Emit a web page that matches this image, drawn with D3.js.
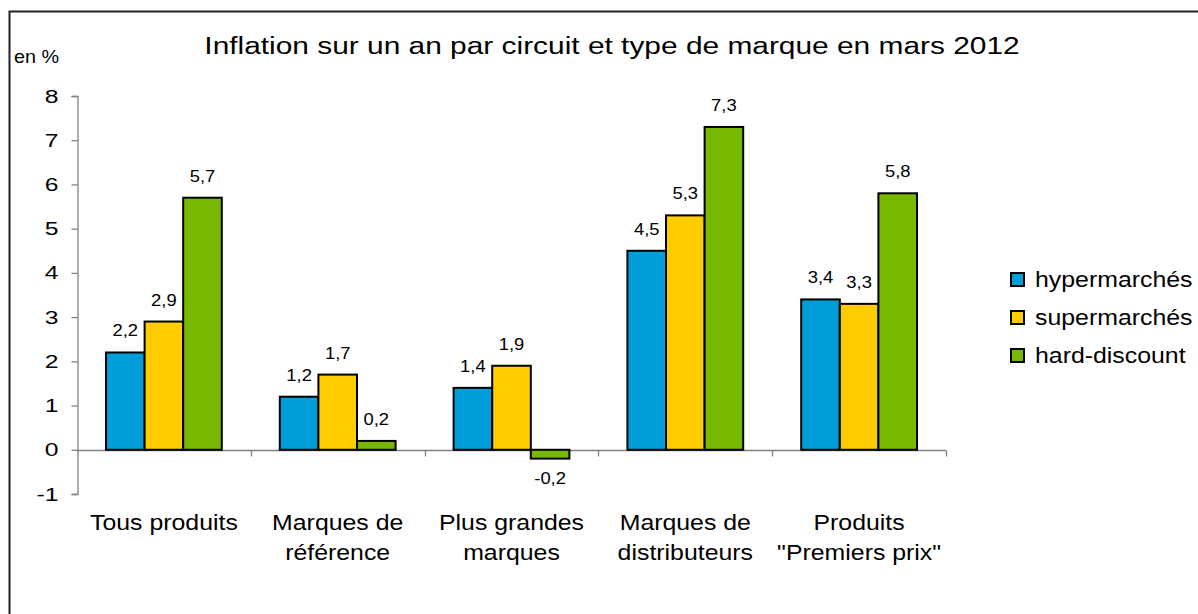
<!DOCTYPE html>
<html>
<head>
<meta charset="utf-8">
<script src="https://cdn.jsdelivr.net/npm/d3@7"></script>
<style>
  body { margin: 0; background: #fff; }
  text { font-family: "Liberation Sans", Arial, sans-serif; fill: #000; }
</style>
</head>
<body>
<svg id="svg" width="1198" height="614"></svg>
<script>
"use strict";

// data
const categories = [
	["Tous produits"],
	["Marques de", "référence"],
	["Plus grandes", "marques"],
	["Marques de", "distributeurs"],
	["Produits", "\"Premiers prix\""],
];
const series = ["hypermarchés", "supermarchés", "hard-discount"];
const hyper = [2.2, 1.2, 1.4, 4.5, 3.4];
const superm = [2.9, 1.7, 1.9, 5.3, 3.3];
const hard = [5.7, 0.2, -0.2, 7.3, 5.8];
const yTicks = [-1, 0, 1, 2, 3, 4, 5, 6, 7, 8];
const colors = ["#009ed9", "#ffcc00", "#76b900"];

const values = [hyper, superm, hard];
const svg = d3.select("#svg");

// the original text looks stretched sideways, so draw text with a scaleX
function place(sel, x, y, sx) {
	return sel.attr("x", 0).attr("y", 0)
		.attr("transform", `translate(${x},${y}) scale(${sx},1)`);
}

// outer frame
svg.append("rect")
	.attr("x", 9.5)
	.attr("y", 11.5)
	.attr("width", 1200)
	.attr("height", 620)
	.attr("fill", "none")
	.attr("stroke", "#222")
	.attr("stroke-width", 2);

// title
place(svg.append("text"), 612, 54, 1.22)
	.attr("text-anchor", "middle")
	.attr("font-size", "24.5px")
	.text("Inflation sur un an par circuit et type de marque en mars 2012");

place(svg.append("text"), 14, 63, 1.1)
	.attr("font-size", "18px")
	.text("en %");

// scales
const y = d3.scaleLinear().domain([-1, 8]).range([494, 96]);
const x0 = d3
	.scaleBand()
	.domain(d3.range(categories.length))
	.range([77, 946]);
const x1 = d3
	.scaleBand()
	.domain(d3.range(series.length))
	.range([29, x0.bandwidth() - 29]);

// y axis
const yAxis = svg
	.append("g")
	.attr("transform", "translate(77.5,0)")
	.call(d3.axisLeft(y).tickValues(yTicks).tickSize(6).tickFormat((d) => String(d)));
yAxis.select(".domain").attr("stroke", "#808080").attr("stroke-width", 1.3);
yAxis.selectAll(".tick line").attr("stroke", "#808080").attr("stroke-width", 1.3);
yAxis.selectAll(".tick text")
	.attr("font-size", "19px")
	.attr("font-family", "Liberation Sans, Arial, sans-serif")
	.attr("fill", "#000")
	.attr("x", 0)
	.attr("transform", "translate(-19,0) scale(1.3,1)");

// zero line with category ticks
const y0 = Math.round(y(0)) + 0.5;
svg.append("line")
	.attr("x1", 77)
	.attr("x2", 946)
	.attr("y1", y0)
	.attr("y2", y0)
	.attr("stroke", "#808080")
	.attr("stroke-width", 1.3);
svg.append("g")
	.selectAll("line")
	.data(d3.range(1, categories.length + 1))
	.enter()
	.append("line")
	.attr("x1", (d) => Math.round(x0.range()[0] + d * x0.bandwidth()) + 0.5)
	.attr("x2", (d) => Math.round(x0.range()[0] + d * x0.bandwidth()) + 0.5)
	.attr("y1", y0)
	.attr("y2", y0 + 6)
	.attr("stroke", "#808080")
	.attr("stroke-width", 1.3);

// bars
const groups = svg
	.append("g")
	.selectAll("g")
	.data(categories)
	.enter()
	.append("g")
	.attr("transform", (d, i) => `translate(${x0(i)},0)`);

groups.each(function (cat, ci) {
	const g = d3.select(this);
	series.forEach((s, si) => {
		const v = values[si][ci];
		g.append("rect")
			.attr("x", x1(si))
			.attr("width", x1.bandwidth())
			.attr("y", y(Math.max(0, v)))
			.attr("height", Math.abs(y(v) - y(0)))
			.attr("fill", colors[si])
			.attr("stroke", "#000")
			.attr("stroke-width", 2);
		place(g.append("text"), x1(si) + x1.bandwidth() / 2, v >= 0 ? y(v) - 16 : y(v) + 25, 1.15)
			.attr("text-anchor", "middle")
			.attr("font-size", "16px")
			.text(String(v).replace(".", ","));
	});
	// category label
	cat.forEach((line, li) => {
		place(g.append("text"), x0.bandwidth() / 2, 530 + li * 30, 1.13)
			.attr("text-anchor", "middle")
			.attr("font-size", "22px")
			.text(line);
	});
});

// legend
const legend = svg
	.append("g")
	.selectAll("g")
	.data(series)
	.enter()
	.append("g")
	.attr("transform", (d, i) => `translate(1011,${273 + i * 38})`);
legend.append("rect")
	.attr("width", 13)
	.attr("height", 13)
	.attr("fill", (d, i) => colors[i])
	.attr("stroke", "#000")
	.attr("stroke-width", 2);
place(legend.append("text"), 24, 14, 1.13)
	.attr("font-size", "22px")
	.text((d) => d);
</script>
</body>
</html>
